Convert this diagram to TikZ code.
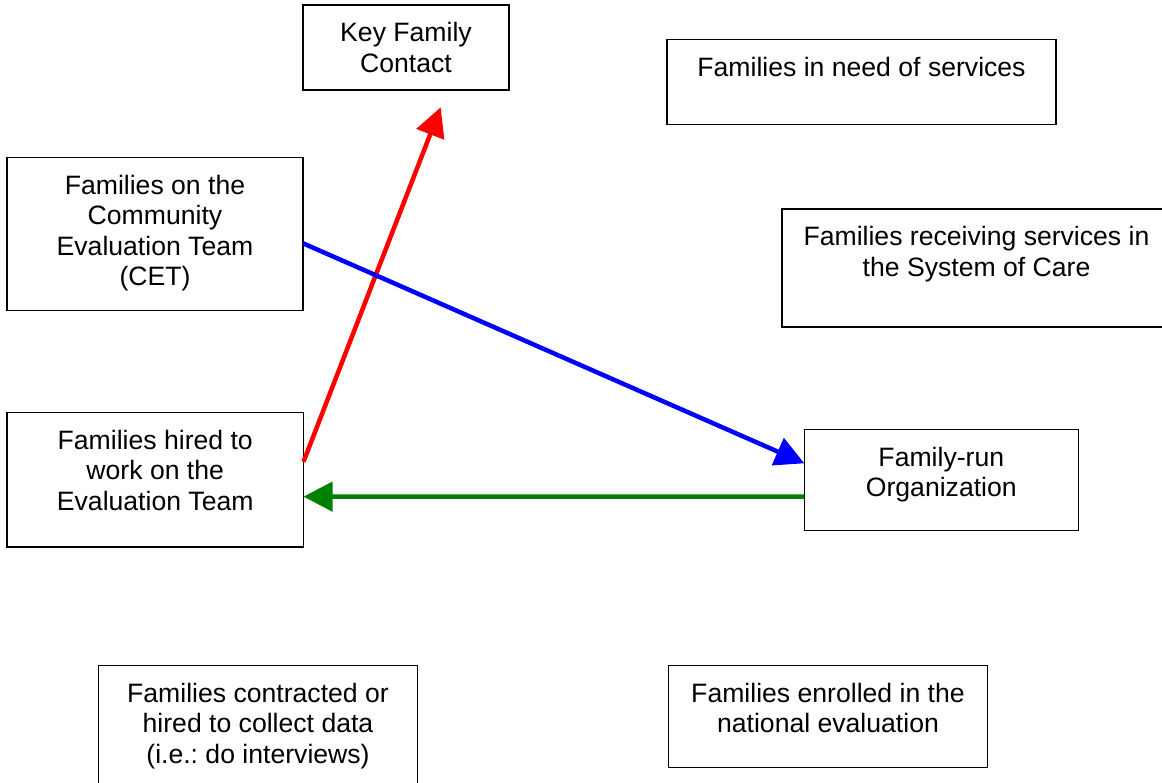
\documentclass[tikz,border=0pt]{standalone}
\usepackage{fontspec}
\setmainfont{Liberation Sans}
\usetikzlibrary{arrows.meta}
\definecolor{arrred}{RGB}{255,0,0}
\definecolor{arrblue}{RGB}{0,0,255}
\definecolor{arrgreen}{RGB}{0,128,0}
\frenchspacing
\begin{document}
\begin{tikzpicture}[x=1pt,y=-1pt,
  boxnode/.style={draw=black,line width=1.4pt,inner sep=0pt,outer sep=0pt,rectangle},
  boxlabel/.style={anchor=north,inner sep=0pt,align=center,
    font=\fontsize{26.6}{30.5}\selectfont\frenchspacing},
  conn/.style={line width=4.5pt,-{Triangle[length=29pt,width=29pt]}}]
\useasboundingbox (0,0) rectangle (1162,783);
\fill[white] (0,0) rectangle (1162,783);
% boxes
\node[boxnode,minimum width=206pt,minimum height=85pt] (kfc) at (406,47.5) {};
\node[boxnode,minimum width=389pt,minimum height=85pt] (need) at (861.5,82) {};
\node[boxnode,minimum width=296pt,minimum height=153pt] (cet) at (155,234) {};
\node[boxnode,minimum width=389pt,minimum height=118pt] (recv) at (976.5,268) {};
\node[boxnode,minimum width=296.5pt,minimum height=134.5pt] (hired) at (155.25,479.75) {};
\node[boxnode,minimum width=274pt,minimum height=101pt] (fro) at (941.3,479.8) {};
\node[boxnode,minimum width=319.4pt,minimum height=140pt] (contr) at (258,735.7) {};
\node[boxnode,minimum width=319.4pt,minimum height=102pt] (enr) at (828,716.7) {};
% labels
\node[boxlabel] (kfc-t) at ([yshift=-16pt]kfc.north) {\rule{0pt}{20.5pt}Key Family\\Contact};
\node[boxlabel] (need-t) at ([yshift=-16pt]need.north) {\rule{0pt}{20.5pt}Families in need of services};
\node[boxlabel] (cet-t) at ([yshift=-16pt]cet.north) {\rule{0pt}{20.5pt}Families on the\\Community\\Evaluation Team\\(CET)};
\node[boxlabel] (recv-t) at ([yshift=-16pt]recv.north) {\rule{0pt}{20.5pt}Families receiving services in\\the System of Care};
\node[boxlabel] (hired-t) at ([yshift=-16pt]hired.north) {\rule{0pt}{20.5pt}Families hired to\\work on the\\Evaluation Team};
\node[boxlabel] (fro-t) at ([yshift=-16pt]fro.north) {\rule{0pt}{20.5pt}Family-run\\Organization};
\node[boxlabel] (contr-t) at ([yshift=-16pt]contr.north) {\rule{0pt}{20.5pt}Families contracted or\\hired to collect data\\(i.e.: do interviews)};
\node[boxlabel] (enr-t) at ([yshift=-16pt]enr.north) {\rule{0pt}{20.5pt}Families enrolled in the\\national evaluation};
% connectors
\coordinate (redend) at (440.7,107.3);
\draw[conn,arrred] ([yshift=18pt]hired.east) -- (redend);
\draw[conn,arrblue] ([yshift=-9.3pt]cet.east) -- ([yshift=16.5pt]fro.west);
\draw[conn,arrgreen] ([yshift=-16.9pt]fro.west) -- ([yshift=-16.9pt]hired.east);
\end{tikzpicture}
\end{document}
